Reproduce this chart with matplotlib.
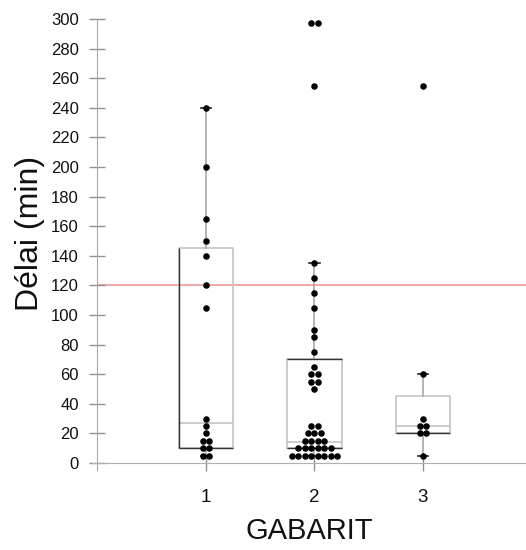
import numpy as np
import matplotlib
matplotlib.use("Agg")
import matplotlib.pyplot as plt

plt.rcParams['font.family'] = ['Liberation Sans', 'DejaVu Sans']

# Data
gabarit = [1, 2, 3]
delai_1 = [240, 200, 165, 150, 140, 120, 105, 30, 25, 20, 15, 15, 10, 10, 5, 5]
delai_2 = [297, 297, 255, 135, 125, 115, 105, 90, 85, 75, 65, 60, 60, 55, 55, 50,
           25, 25, 20, 20, 20, 15, 15, 15, 15, 10, 10, 10, 10, 10, 10,
           5, 5, 5, 5, 5, 5, 5, 5]
delai_3 = [255, 60, 30, 25, 25, 20, 20, 5]

# box summaries as drawn in the original
q1 = [10, 10, 20]
med = [27, 14, 25]
q3 = [145, 70, 45]
whis_lo = [5, 5, 5]
whis_hi = [240, 135, 60]

seuil = 120
yticks = list(range(0, 301, 20))

# Figure
fig = plt.figure(figsize=(5.26, 5.5), dpi=100)
ax = fig.add_axes([92 / 526, 79.6 / 550, 434 / 526, 451.4 / 550])
ax.set_xlim(-0.05, 3.95)
ax.set_ylim(-5, 300)

stats = []
for i in range(3):
    stats.append({"med": med[i], "q1": q1[i], "q3": q3[i],
                  "whislo": whis_lo[i], "whishi": whis_hi[i], "fliers": []})

ax.bxp(stats, positions=gabarit, widths=0.5, showfliers=False,
       boxprops=dict(color="#c4c4c4", lw=1.2),
       medianprops=dict(color="#c4c4c4", lw=1.2),
       whiskerprops=dict(color="#a8a8a8", lw=1.2),
       capprops=dict(color="#222222", lw=1.2),
       capwidths=0.1)

# darker box edges (as rendered in the original)
half = 0.25
for i, pos in enumerate(gabarit):
    ax.hlines(q1[i], pos - half, pos + half, color="#333333", lw=1, zorder=3)
ax.vlines(gabarit[0] - half, q1[0], q3[0], color="#333333", lw=1, zorder=3)
ax.hlines(q3[1], gabarit[1] - half, gabarit[1] + half, color="#333333", lw=1, zorder=3)

# threshold line
ax.hlines(seuil, 0, 3.95, color="#eb9a9a", lw=1.2, zorder=1.5)

# dot plot of individual values
step = 0.06
for pos, vals in zip(gabarit, [delai_1, delai_2, delai_3]):
    uniq, counts = np.unique(vals, return_counts=True)
    for v, k in zip(uniq, counts):
        xs = pos + (np.arange(k) - (k - 1) / 2) * step
        ax.plot(xs, [v] * k, "o", color="black", ms=3.7, mec="black", zorder=4)

# Axes styling
for s in ["top", "right"]:
    ax.spines[s].set_visible(False)
ax.spines["left"].set_position(("data", 0))
ax.spines["bottom"].set_position(("data", 0))
ax.spines["left"].set_color("#a8a8a8")
ax.spines["bottom"].set_color("#b0b0b0")

ax.set_xticks(gabarit)
ax.set_yticks(yticks)
ax.tick_params(axis="both", direction="inout", length=11, width=1,
               color="#909090", labelcolor="#111111")
ax.tick_params(axis="x", labelsize=13.5, pad=13)
ax.tick_params(axis="y", labelsize=12, pad=8)

ax.set_xlabel("GABARIT", fontsize=21, labelpad=8, color="#111111")
ax.set_ylabel("Délai (min)", fontsize=23, color="#111111")
ax.yaxis.set_label_coords(-0.108, 0.526)

fig.savefig("out.png", dpi=100)
